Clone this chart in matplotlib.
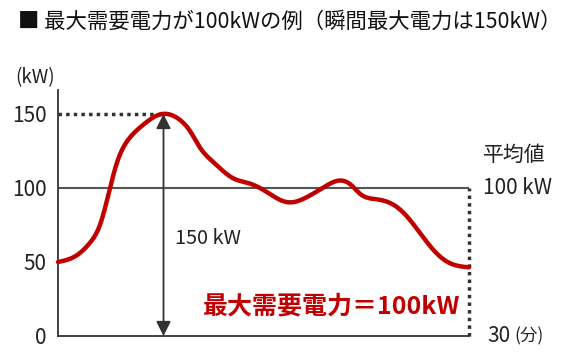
import numpy as np
import matplotlib
matplotlib.use("Agg")
import matplotlib.pyplot as plt

plt.rcParams['font.family'] = ['Noto Sans CJK JP', 'DejaVu Sans']

# Data (minutes, kW)
minutes = [0, 1.4, 2.3, 3.1, 3.8, 4.3, 5.0, 6.0, 7.6, 8.9, 9.6, 10.4, 11.3,
           12.8, 14.0, 15.2, 16.2, 16.9, 18.2, 19.4, 20.5, 21.4, 22.0, 23.3,
           24.7, 25.9, 27.2, 28.4, 30.0]
power = [50, 54.7, 62.6, 76, 100, 117, 131, 141, 150, 146, 139, 126.8,
         117.8, 106.5, 103, 97.5, 92, 90.3, 94, 100.5, 105, 102, 96.4, 92.3,
         87.4, 76, 60.3, 50.2, 46.4]
yticks = [0, 50, 100, 150]
average = 100
peak = 150
peak_time = 7.7
period = 30

title = "■ 最大需要電力が100kWの例（瞬間最大電力は150kW）"
red_label = "最大需要電力＝100kW"
red = "#C00000"
dark = "#333333"


def natural_spline(x, y, n=400):
    x = np.asarray(x, float); y = np.asarray(y, float)
    m = len(x)
    h = np.diff(x)
    A = np.zeros((m, m)); b = np.zeros(m)
    A[0, 0] = A[-1, -1] = 1
    for i in range(1, m - 1):
        A[i, i - 1] = h[i - 1]
        A[i, i] = 2 * (h[i - 1] + h[i])
        A[i, i + 1] = h[i]
        b[i] = 6 * ((y[i + 1] - y[i]) / h[i] - (y[i] - y[i - 1]) / h[i - 1])
    M = np.linalg.solve(A, b)
    xs = np.linspace(x[0], x[-1], n)
    idx = np.clip(np.searchsorted(x, xs) - 1, 0, m - 2)
    x0, x1 = x[idx], x[idx + 1]
    hh = x1 - x0
    t0 = x1 - xs; t1 = xs - x0
    ys = (M[idx] * t0 ** 3 / (6 * hh) + M[idx + 1] * t1 ** 3 / (6 * hh)
          + (y[idx] / hh - M[idx] * hh / 6) * t0
          + (y[idx + 1] / hh - M[idx + 1] * hh / 6) * t1)
    return xs, ys


fig = plt.figure(figsize=(5.74, 3.6), dpi=100)
W, H = 574, 360
ax = fig.add_axes([58 / W, (H - 336) / H, (469 - 58) / W, (336 - 90) / H])
ax.set_xlim(0, period)
ax.set_ylim(0, (336 - 90) / 1.48)

for s in ['top', 'right']:
    ax.spines[s].set_visible(False)
for s in ['left', 'bottom']:
    ax.spines[s].set_color(dark)
    ax.spines[s].set_linewidth(1.3)

ax.set_xticks([])
ax.set_yticks(yticks)
ax.set_yticklabels([str(v) for v in yticks], fontsize=15, color="#222222")
ax.tick_params(axis='y', length=0, pad=8)

# average line
ax.plot([0, period], [average, average], color="#555555", lw=1.5, zorder=1)
# dotted lines
ax.plot([0, peak_time], [peak, peak], color=dark, lw=2.5, ls=(0, (1, 1.2)), zorder=2)
ax.plot([period, period], [0, average], color=dark, lw=2.5, ls=(0, (1, 1.2)), zorder=2,
        clip_on=False)

# curve
sx, sy = natural_spline(minutes, power)
ax.plot(sx, sy, color=red, lw=3.2, solid_capstyle='round', zorder=3, clip_on=False)

# arrow
ax.annotate("", xy=(peak_time, 0), xytext=(peak_time, peak),
            arrowprops=dict(arrowstyle='<|-|>', color=dark, lw=1.3,
                            mutation_scale=22, shrinkA=0, shrinkB=0), zorder=4)

# texts
fig.text(18 / W, 1 - 22 / H, title, fontsize=15.4, va='center', ha='left', color="#111111")
fig.text(15 / W, 1 - 78 / H, "(kW)", fontsize=13.5, va='center', ha='left', color="#222222")
fig.text(175 / W, 1 - 238 / H, "150 kW", fontsize=14.3, va='center', ha='left', color="#222222")
fig.text(483 / W, 1 - 155 / H, "平均値", fontsize=15, va='center', ha='left', color="#222222")
fig.text(483 / W, 1 - 188 / H, "100 kW", fontsize=15, va='center', ha='left', color="#222222")
fig.text(487 / W, 1 - 336 / H, "30", fontsize=15, va='center', ha='left', color="#222222")
fig.text(514 / W, 1 - 336 / H, "(分)", fontsize=12.5, va='center', ha='left', color="#222222")
fig.text(203 / W, 1 - 306 / H, red_label, fontsize=18, fontweight='bold', va='center',
         ha='left', color=red)

fig.savefig("out.png", dpi=100)
